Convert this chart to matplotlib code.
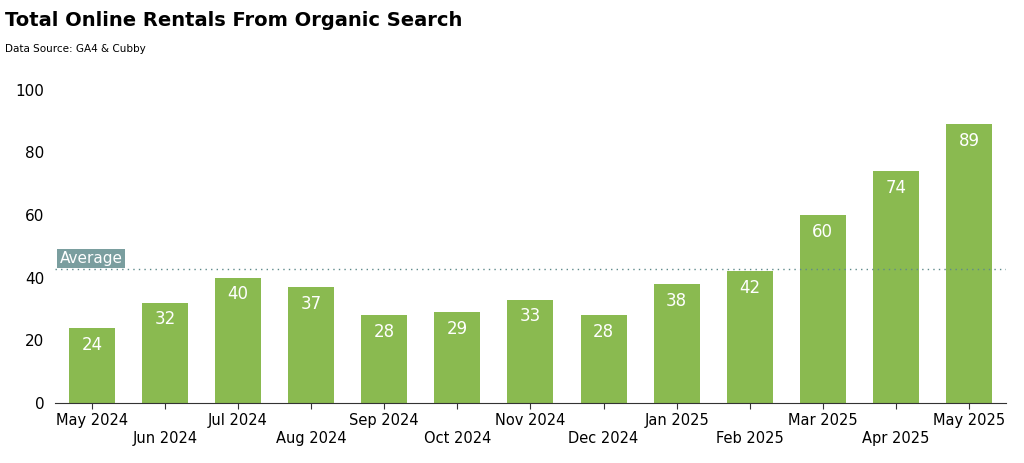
import matplotlib
matplotlib.use("Agg")
import matplotlib.pyplot as plt
import numpy as np

months = ["May 2024","Jun 2024","Jul 2024","Aug 2024","Sep 2024","Oct 2024","Nov 2024",
          "Dec 2024","Jan 2025","Feb 2025","Mar 2025","Apr 2025","May 2025"]
rentals = [24,32,40,37,28,29,33,28,38,42,60,74,89]
yticks = [0,20,40,60,80,100]

fig = plt.figure(figsize=(10.24,4.63), dpi=100)
ax = fig.add_axes([0.054, 0.13, 0.928, 0.676])
x = np.arange(len(months))
ax.bar(x, rentals, width=0.63, color="#8aba50")
for xi, v in zip(x, rentals):
    ax.text(xi, v-2.5, str(v), ha="center", va="top", color="white", fontsize=12)
avg = float(np.mean(rentals))
ax.axhline(avg, color="#5f8a8b", linestyle=(0,(1,3)), linewidth=1)
ax.text(-0.44, avg+3.5, "Average", color="white", fontsize=11, va="center", ha="left",
        bbox=dict(boxstyle="square,pad=0.15", fc="#7a9e9f", ec="none"))
ax.set_xlim(-0.5, 12.5)
ax.set_ylim(0, 100)
ax.set_yticks(yticks)
ax.set_xticks(x)
ax.set_xticklabels([m if i % 2 == 0 else "\n" + m for i, m in enumerate(months)], fontsize=10.5)
ax.tick_params(axis="y", length=0, labelsize=11, pad=8)
ax.tick_params(axis="x", length=4, color="#333333")
for s in ["top","right","left"]:
    ax.spines[s].set_visible(False)
ax.spines["bottom"].set_color("#333333")
fig.text(0.005, 0.955, "Total Online Rentals From Organic Search", fontsize=14, fontweight="bold", va="center")
fig.text(0.005, 0.895, "Data Source: GA4 & Cubby", fontsize=7.5, va="center")
fig.savefig("out.png", dpi=100)
